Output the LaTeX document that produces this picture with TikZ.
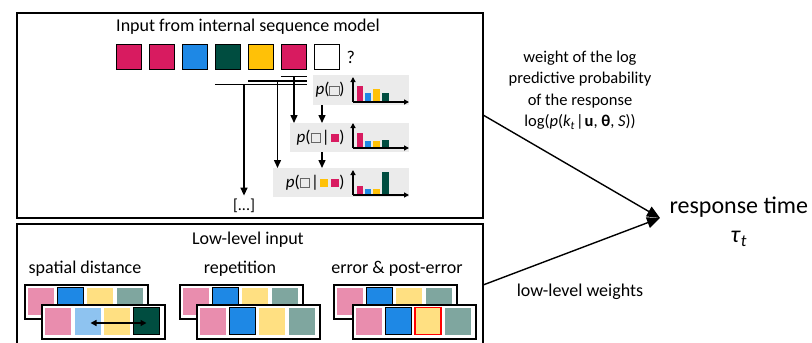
\documentclass[tikz,border=0pt]{standalone}
\usepackage{fontspec}
\setmainfont{Carlito}
\usetikzlibrary{arrows.meta,positioning,calc}

\definecolor{cmag}{HTML}{D81B60}
\definecolor{cblu}{HTML}{1E88E5}
\definecolor{cgrn}{HTML}{004D40}
\definecolor{cyel}{HTML}{FFC107}
\definecolor{lmag}{HTML}{E98DAE}
\definecolor{lblu}{HTML}{8EC3F0}
\definecolor{lyel}{HTML}{FFE082}
\definecolor{lgrn}{HTML}{7FA69F}

\newcommand{\emptysq}{{\setlength{\fboxsep}{0pt}\setlength{\fboxrule}{0.7pt}\textcolor{black!60}{\fbox{\rule{0pt}{8.5pt}\rule{8.5pt}{0pt}}}}}
\newcommand{\colsq}[1]{\textcolor{#1}{\rule{8pt}{8pt}}}

\begin{document}
\begin{tikzpicture}[x=1pt,y=-1pt,>={Triangle[length=8pt,width=7pt]},
    every node/.style={font=\fontsize{18}{21}\selectfont},
    frame/.style={draw,line width=1.6pt,inner sep=0pt,anchor=north west},
    seqsq/.style={draw,line width=1.3pt,minimum size=25pt,inner sep=0pt},
    bar/.style={line width=1.4pt},
    probbox/.style={fill=black!8,inner sep=0pt,anchor=north west},
    axis/.style={line width=1.2pt,-{Triangle[length=5pt,width=5pt]}},
    strip/.style={draw,line width=1.5pt,fill=white,minimum width=123pt,
                  minimum height=34pt,inner sep=0pt,anchor=north west},
    tile/.style={line width=1.5pt,minimum width=26pt,minimum height=27pt,inner sep=0pt}]
  \useasboundingbox (0,0) rectangle (812,343);

  % the two input panels
  \node[frame,minimum width=466pt,minimum height=205pt] (seqbox) at (16,12) {};
  \node[frame,minimum width=466pt,minimum height=122pt] (lowbox) at (16,223) {};
  \node (seqtitle) at (248,27) {Input from internal sequence model};

  % observed sequence
  \foreach \c [count=\i] in {cmag,cmag,cblu,cgrn,cyel,cmag,white}
    \node[seqsq,fill=\c] (sq\i) at ({129+33*(\i-1)},57) {};
  \node[right=3pt of sq7] (qmark) {?};

  % context brackets
  \draw[bar] ([yshift=-6.5pt]sq6.south west) -- ([yshift=-6.5pt]sq6.south east);
  \draw[bar] ([yshift=-11pt]sq5.south west) -- ([yshift=-11pt]sq6.south east);
  \draw[bar] ([yshift=-14.5pt]sq4.south west) -- ([yshift=-14.5pt]sq6.south east);
  \coordinate (k1) at ([yshift=-6.5pt]sq6.south);
  \coordinate (k2) at (277.5,80.5);
  \coordinate (k3) at (244,84);

  % predictive distributions
  \node[probbox,minimum width=96pt,minimum height=30pt] (pa) at (313,75) {};
  \node[probbox,minimum width=119pt,minimum height=29pt] (pb) at (290,123) {};
  \node[probbox,minimum width=136pt,minimum height=29pt] (pc) at (273,168) {};
  \node[anchor=east,font=\fontsize{17}{20}\selectfont] (la) at (348,90)
       {\textit{p}(\emptysq)};
  \node[anchor=east,font=\fontsize{17}{20}\selectfont] (lb) at (348,137.5)
       {\textit{p}(\emptysq\kern1.5pt|\kern1.5pt\colsq{cmag})};
  \node[anchor=east,font=\fontsize{17}{20}\selectfont] (lc) at (348,182.5)
       {\textit{p}(\emptysq\kern1.5pt|\kern1.5pt\colsq{cyel}\,\colsq{cmag})};
  \node[font=\fontsize{16}{19}\selectfont] (dots) at (244,206) {[...]};

  \foreach \y/\ha/\hb/\hc/\hd in {102/16/9/13/9,148/15/7/7/8,195/9/6/6/23} {
    \fill[cmag] (357,\y) rectangle (363,\y-\ha);
    \fill[cblu] (365,\y) rectangle (371,\y-\hb);
    \fill[cyel] (373,\y) rectangle (380,\y-\hc);
    \fill[cgrn] (382,\y) rectangle (389,\y-\hd);
    \draw[axis] (353,\y) -- (353,\y-25);
    \draw[axis] (353,\y) -- (409,\y);
  }

  \coordinate (pa-out) at ([xshift=9pt]pa.south west);
  \coordinate (pb-out) at ([xshift=32pt]pb.south west);
  \draw[->,bar] (k1) -- (k1 |- pb.north);
  \draw[->,bar] (k2) -- (k2 |- pc.north);
  \draw[->,bar] (k3) -- (dots.north);
  \draw[->,bar] (pa-out) -- (pa-out |- pb.north);
  \draw[->,bar] (pb-out) -- (pb-out |- pc.north);

  % low-level input
  \node (lowtitle) at (248,240) {Low-level input};
  \node (lsd) at (85,269) {spatial distance};
  \node (lrp) at (240,269) {repetition};
  \node (ler) at (397,269) {error \& post-error};

  \foreach \gx/\gn in {24/sd,179/rp,333/er} {
    \node[strip] (\gn-b) at (\gx,284) {};
    \foreach \c/\d [count=\i] in {lmag/none,cblu/black,lyel/none,lgrn/none}
      \node[tile,fill=\c,draw=\d] (\gn-b\i) at ($(\gn-b.north west)+(17+29.5*\i-29.5,17)$) {};
  }
  \node[strip] (sd-f) at (41,304) {};
  \foreach \c/\d [count=\i] in {lmag/none,lblu/none,lyel/none,cgrn/black}
    \node[tile,fill=\c,draw=\d] (sd-f\i) at ($(sd-f.north west)+(17+29.5*\i-29.5,17)$) {};
  \node[strip] (rp-f) at (196,304) {};
  \foreach \c/\d [count=\i] in {lmag/none,cblu/black,lyel/none,lgrn/none}
    \node[tile,fill=\c,draw=\d] (rp-f\i) at ($(rp-f.north west)+(17+29.5*\i-29.5,17)$) {};
  \node[strip] (er-f) at (352,304) {};
  \foreach \c/\d [count=\i] in {lmag/none,cblu/black,lyel/red,lgrn/none}
    \node[tile,fill=\c,draw=\d] (er-f\i) at ($(er-f.north west)+(17+29.5*\i-29.5,17)$) {};
  \draw[<->,bar,>={Triangle[length=6pt,width=6pt]}]
       ([shift={(3pt,-2pt)}]sd-f2.center) -- ([yshift=-2pt]sd-f4.center);

  % response time
  \coordinate (meet) at (660,218);
  \node[right=6pt of meet,yshift=-4pt,align=center,font=\fontsize{24}{29}\selectfont] (rt)
       {response time\\\textit{τ}\textsubscript{\textit{t}}};
  \draw[->,line width=1.4pt,>={Triangle[length=13pt,width=11pt]}] (seqbox.east) -- (meet);
  \draw[->,line width=1.4pt,>={Triangle[length=13pt,width=11pt]}] (lowbox.east) -- (meet);
  \node[align=center,font=\fontsize{16.5}{21.5}\selectfont] (wlabel) at (580,90)
       {weight of the log\\predictive probability\\of the response\\
        log(\textit{p}(\textit{k}\textsubscript{\textit{t}}\kern1pt|\kern1pt\textbf{u}, \textbf{θ}, \textit{S}))};
  \node (lwlabel) at (580,292) {low-level weights};
\end{tikzpicture}
\end{document}
